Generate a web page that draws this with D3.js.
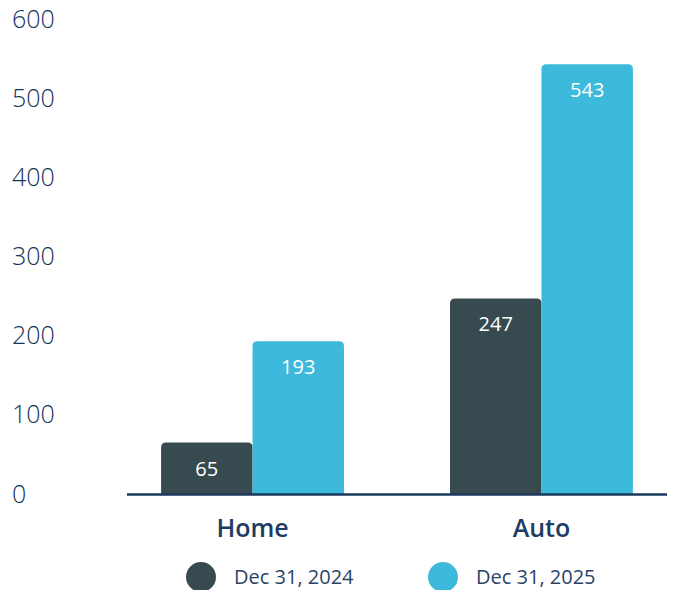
<!DOCTYPE html>
<html>
<head>
<meta charset="utf-8">
<script src="https://cdn.jsdelivr.net/npm/d3@7"></script>
<style>
  html, body { margin: 0; padding: 0; background: #ffffff; }
  svg { display: block; font-family: "Open Sans", Lato, sans-serif; }
</style>
</head>
<body>
<svg id="chart" width="676" height="590"></svg>
<script>
// Categories, series and values
const categories = ["Home", "Auto"];
const seriesNames = ["Dec 31, 2024", "Dec 31, 2025"];
const values2024 = [65, 247];
const values2025 = [193, 543];
const yTicks = [0, 100, 200, 300, 400, 500, 600];
const seriesColors = ["#364a50", "#3cb9db"];

const seriesValues = [values2024, values2025];
const rows = categories.map((c, i) => ({
  category: c,
  items: seriesNames.map((s, j) => ({ series: s, value: seriesValues[j][i], color: seriesColors[j] }))
}));

const svg = d3.select("#chart");
const navy = "#1d3b63";

const y = d3.scaleLinear().domain([0, 600]).range([494, 19]);
const x = d3.scaleBand().domain(categories).range([127, 667])
  .paddingInner(0.367).paddingOuter(0.118);
const xs = d3.scaleBand().domain(seriesNames).range([0, x.bandwidth()]).padding(0);

// Y axis: labels only, no domain or tick lines
const yAxis = d3.axisLeft(y).tickValues(yTicks).tickSize(0).tickPadding(0);
const yg = svg.append("g").attr("transform", "translate(12,0)").call(yAxis);
yg.select(".domain").remove();
yg.selectAll("text")
  .attr("text-anchor", "start")
  .attr("x", 0)
  .attr("fill", "#15335a")
  .style("font-size", "25px")
  .style("font-weight", "300")
  .style("font-family", "'Open Sans', sans-serif");

// Bars with rounded top corners
const r = 5;
function topRounded(x0, y0, w, h) {
  const rr = Math.min(r, h, w / 2);
  return `M${x0},${y0 + h}V${y0 + rr}Q${x0},${y0} ${x0 + rr},${y0}H${x0 + w - rr}Q${x0 + w},${y0} ${x0 + w},${y0 + rr}V${y0 + h}Z`;
}

const groups = svg.append("g").selectAll("g").data(rows).join("g")
  .attr("transform", d => `translate(${x(d.category)},0)`);

groups.selectAll("path").data(d => d.items).join("path")
  .attr("d", d => topRounded(xs(d.series), y(d.value), xs.bandwidth(), y(0) - y(d.value)))
  .attr("fill", d => d.color);

groups.selectAll("text.val").data(d => d.items).join("text")
  .attr("class", "val")
  .attr("x", d => xs(d.series) + xs.bandwidth() / 2)
  .attr("y", d => Math.min(y(d.value) + 26, (y(d.value) + y(0)) / 2 + 5))
  .attr("dy", "0.35em")
  .attr("text-anchor", "middle")
  .attr("fill", "#ffffff")
  .style("font-size", "20px")
  .text(d => d.value);

// Baseline
svg.append("line")
  .attr("x1", x.range()[0]).attr("x2", x.range()[1])
  .attr("y1", y(0) + 0.5).attr("y2", y(0) + 0.5)
  .attr("stroke", "#1b3a5e").attr("stroke-width", 2.5);

// Category labels
const xAxis = d3.axisBottom(x).tickSize(0).tickPadding(0);
const xg = svg.append("g").attr("transform", `translate(0,${y(0) + 34})`).call(xAxis);
xg.select(".domain").remove();
xg.selectAll("text")
  .attr("y", 0)
  .attr("dy", "0.35em")
  .attr("fill", navy)
  .style("font-size", "25px")
  .style("font-weight", "600")
  .style("font-family", "'Open Sans', sans-serif");

// Legend
const legendX = d3.scaleOrdinal().domain(seriesNames).range([201, 443]);
const legend = svg.append("g").selectAll("g").data(seriesNames).join("g")
  .attr("transform", d => `translate(${legendX(d)},577)`);
legend.append("circle").attr("r", 15)
  .attr("fill", (d, i) => seriesColors[i]);
legend.append("text")
  .attr("x", 33).attr("dy", "0.35em")
  .attr("fill", "#2a4466")
  .style("font-size", "20px")
  .style("font-weight", "400")
  .text(d => d);
</script>
</body>
</html>
